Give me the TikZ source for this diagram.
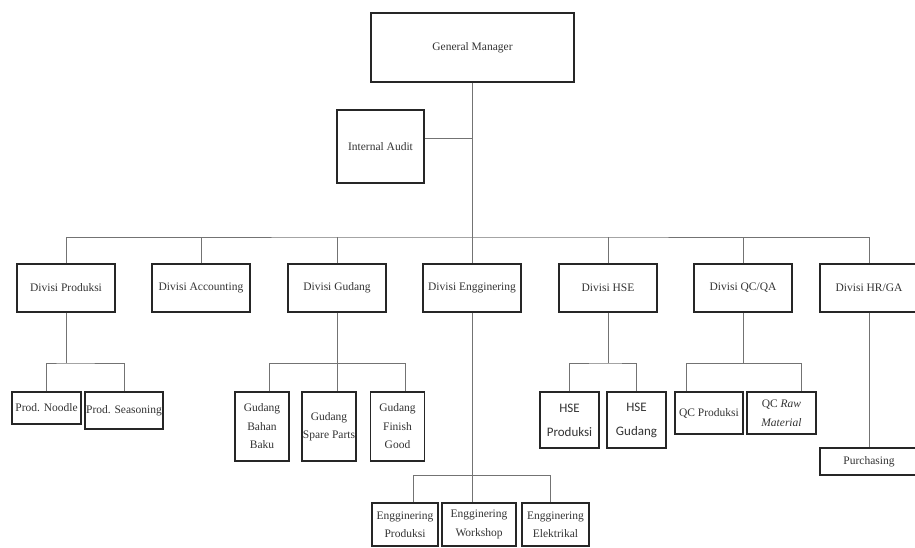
\documentclass[tikz,border=0pt]{standalone}
\usepackage{fontspec}
\setmainfont{Liberation Serif}
\newfontfamily\hsefont{Carlito}
\usepackage{tikz}
\usetikzlibrary{positioning}

\tikzset{
  box/.style={draw=black!85, line width=1.1pt, text=black!80, align=center,
    inner sep=1pt, font=\fontsize{11.5}{18.5}\selectfont},
  unit/.style={box, minimum width=98pt, minimum height=48pt},
  link/.style={draw=black!55, line width=0.9pt}
}

\begin{document}
\begin{tikzpicture}[x=1pt,y=-1pt]
\useasboundingbox (0,0) rectangle (915,547);
% top
\node[box, minimum width=203pt, minimum height=69pt] (gm) at (472.5,47.5) {General Manager};
\node[box, minimum width=87pt, minimum height=73pt] (audit) at (380.5,146.5) {Internal Audit};
% divisions
\node[unit] (dprod) at (66,288) {Divisi Produksi};
\node[unit] (dacc) at (201,288) {Divisi Accounting};
\node[unit] (dgud) at (337,288) {Divisi Gudang};
\node[unit] (dengg) at (472,288) {Divisi Engginering};
\node[unit] (dhse) at (608,288) {Divisi HSE};
\node[unit] (dqc) at (743,288) {Divisi QC/QA};
\node[unit] (dhrga) at (869,288) {Divisi HR/GA};
% sections
\node[box, minimum width=69pt, minimum height=32pt] (noodle) at (46.5,408) {Prod. Noodle};
\node[box, minimum width=78pt, minimum height=37pt] (season) at (124,410.5) {Prod. Seasoning};
\node[box, minimum width=54pt, minimum height=69pt] (bahan) at (262,426.5) {Gudang\\Bahan\\Baku};
\node[box, minimum width=54pt, minimum height=69pt] (spare) at (329,426.5) {Gudang\\Spare Parts};
\node[box, minimum width=54pt, minimum height=69pt] (finish) at (397.5,426.5) {Gudang\\Finish\\Good};
\node[box, minimum width=66pt, minimum height=43pt] (eprod) at (405,524.5) {Engginering\\Produksi};
\node[box, minimum width=74pt, minimum height=43pt] (ework) at (479,524.5) {Engginering\\Workshop};
\node[box, minimum width=67pt, minimum height=43pt] (eelek) at (555.5,524.5) {Engginering\\Elektrikal};
\node[box, minimum width=59pt, minimum height=56pt, font=\hsefont\fontsize{13}{24}\selectfont] (hseprod) at (569.5,420) {HSE\\Produksi};
\node[box, minimum width=59pt, minimum height=56pt, font=\hsefont\fontsize{13}{24}\selectfont] (hsegud) at (636.5,420) {HSE\\Gudang};
\node[box, minimum width=68pt, minimum height=42pt] (qcprod) at (709,413) {QC Produksi};
\node[box, minimum width=69pt, minimum height=42pt] (qcraw) at (781.5,413) {QC \textit{Raw}\\\textit{Material}};
\node[box, minimum width=98pt, minimum height=27pt] (purch) at (869,461.5) {Purchasing};

% joints
\coordinate (auditjoin) at (472,138);
\coordinate (mainbar) at (472,237);
\coordinate (prodbar) at (66,363);
\coordinate (gudL) at (269,363);
\coordinate (gudR) at (405,363);
\coordinate (enggL) at (413,475);
\coordinate (enggR) at (550,475);
\coordinate (hsebar) at (608,363);
\coordinate (qcL) at (686,363);
\coordinate (qcR) at (801,363);

% connectors
\draw[link] (gm.south) -- (gm.south |- dengg.north);
\draw[link] (auditjoin -| audit.east) -- (auditjoin);
\draw[link] (dprod.north) |- (mainbar) -| (dhrga.north);
\foreach \d in {dacc,dgud,dhse,dqc}
  \draw[link] (\d.north) -- (\d.north |- mainbar);
\draw[link] (dprod.south) -- (prodbar);
\draw[link] (noodle.north) |- (prodbar) -| (season.north);
\draw[link] (dgud.south) -- (dgud.south |- spare.north);
\draw[link] (gudL |- bahan.north) -- (gudL) -- (gudR) -- (gudR |- finish.north);
\draw[link] (dengg.south) -- (dengg.south |- ework.north);
\draw[link] (enggL |- eprod.north) -- (enggL) -- (enggR) -- (enggR |- eelek.north);
\draw[link] (dhse.south) -- (hsebar);
\draw[link] (hseprod.north) |- (hsebar) -| (hsegud.north);
\draw[link] (dqc.south) -- (dqc.south |- qcL);
\draw[link] (qcL |- qcprod.north) -- (qcL) -- (qcR) -- (qcR |- qcraw.north);
\draw[link] (dhrga.south) -- (purch.north);
\end{tikzpicture}
\end{document}
